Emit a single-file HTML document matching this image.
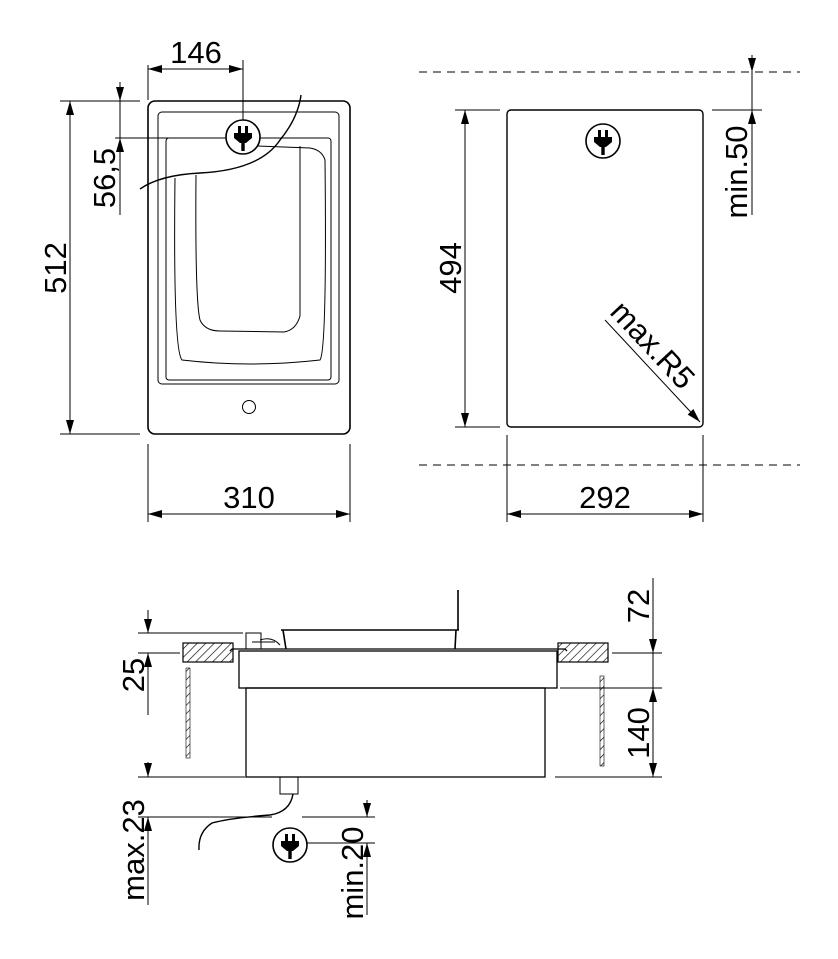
<!DOCTYPE html>
<html><head><style>body{margin:0;background:#fff}svg{display:block}text{font-family:"Liberation Sans",sans-serif;fill:#000}</style></head><body>
<svg width="838" height="959" viewBox="0 0 838 959" xmlns="http://www.w3.org/2000/svg">
<defs>
<marker id="a" viewBox="0 0 14 10" refX="14" refY="5" markerWidth="14" markerHeight="10" markerUnits="userSpaceOnUse" orient="auto-start-reverse"><path d="M0,1 L14,5 L0,9Z" fill="#000"/></marker>
<pattern id="h" width="6" height="6" patternUnits="userSpaceOnUse" patternTransform="rotate(45)"><line x1="0" y1="0" x2="0" y2="6" stroke="#000" stroke-width="1.3"/></pattern>
<g id="plug"><circle r="17" fill="#fff" stroke="#000" stroke-width="1.6"/><rect x="-5" y="-11" width="3" height="7" fill="#000"/><rect x="2" y="-11" width="3" height="7" fill="#000"/><path d="M-9,-4 H9 V1 L3,6 H-3 L-9,1Z" fill="#000"/><rect x="-1.7" y="5" width="3.4" height="9" fill="#000"/></g>
</defs>
<g fill="none" stroke="#000" stroke-width="1">
<rect x="148" y="101" width="202" height="333" rx="7" stroke-width="1.6"/>
<rect x="158" y="112" width="181" height="272" rx="4"/>
<rect x="166" y="138" width="165" height="242" rx="3"/>
<path d="M175,178 Q173,350 182,360 Q250,368 320,360 Q327,350 325,160 Q322,150 310,148 L230,145"/>
<path d="M196,175 Q195,300 200,320 Q205,331 220,331 L284,332 Q296,330 300,316 L300,146"/>
<circle cx="249" cy="407" r="6.5"/>
<path d="M140,189 Q160,175 200,173 Q260,170 280,140 Q298,118 301,95" stroke-width="1.4"/>
<line x1="148" y1="100" x2="148" y2="65"/><line x1="243" y1="60" x2="243" y2="128"/>
<line x1="148" y1="69" x2="243" y2="69" marker-start="url(#a)" marker-end="url(#a)"/>
<line x1="60" y1="101" x2="140" y2="101"/><line x1="60" y1="434" x2="140" y2="434"/>
<line x1="70" y1="101" x2="70" y2="434" marker-start="url(#a)" marker-end="url(#a)"/>
<line x1="115" y1="138" x2="225" y2="138"/>
<line x1="120" y1="82" x2="120" y2="101" marker-end="url(#a)"/>
<line x1="120" y1="215" x2="120" y2="138" marker-end="url(#a)"/>
<line x1="120" y1="101" x2="120" y2="138"/>
<line x1="148" y1="444" x2="148" y2="522"/><line x1="350" y1="444" x2="350" y2="522"/>
<line x1="148" y1="514" x2="350" y2="514" marker-start="url(#a)" marker-end="url(#a)"/>
<rect x="507" y="110" width="196" height="317" rx="4" stroke-width="1.4"/>
<line x1="413" y1="72" x2="800" y2="72" stroke-dasharray="8 6" stroke-dashoffset="-20"/>
<line x1="413" y1="465" x2="800" y2="465" stroke-dasharray="8 6" stroke-dashoffset="-20"/>
<line x1="455" y1="110" x2="500" y2="110"/><line x1="455" y1="427" x2="500" y2="427"/>
<line x1="465" y1="110" x2="465" y2="427" marker-start="url(#a)" marker-end="url(#a)"/>
<line x1="712" y1="110" x2="762" y2="110"/>
<line x1="752" y1="55" x2="752" y2="72" marker-end="url(#a)"/>
<line x1="752" y1="215" x2="752" y2="110" marker-end="url(#a)"/>
<line x1="752" y1="72" x2="752" y2="110"/>
<line x1="605" y1="320" x2="700" y2="422" marker-end="url(#a)"/>
<line x1="507" y1="435" x2="507" y2="522"/><line x1="703" y1="435" x2="703" y2="522"/>
<line x1="507" y1="514" x2="703" y2="514" marker-start="url(#a)" marker-end="url(#a)"/>
<rect x="183" y="643" width="50" height="19" fill="url(#h)" stroke-width="1.2"/>
<rect x="558" y="643" width="50" height="19" fill="url(#h)" stroke-width="1.2"/>
<rect x="186" y="668" width="4" height="90" fill="url(#h)" stroke-width="0.6"/>
<rect x="600" y="676" width="4" height="90" fill="url(#h)" stroke-width="0.6"/>
<path d="M230,651 L232,649 H565 L567,651" stroke-width="1.3"/>
<rect x="239" y="651" width="318" height="37" stroke-width="1.3"/>
<rect x="246" y="688" width="299" height="89" stroke-width="1.3"/>
<path d="M281,630 H459 M283,630 L286,649 M456,630 L455,649 M458,630 L458,590" stroke-width="1.6"/>
<rect x="246" y="633" width="15" height="16"/>
<path d="M252,642 H275 M260,640 Q272,636 280,645"/>
<rect x="280" y="777" width="18" height="17"/>
<path d="M293,794 Q290,812 270,815 Q230,818 212,823 Q198,832 199,850" stroke-width="1.4"/>
<line x1="138" y1="633" x2="243" y2="633"/><line x1="138" y1="653" x2="180" y2="653"/>
<line x1="148" y1="610" x2="148" y2="633" marker-end="url(#a)"/>
<line x1="148" y1="715" x2="148" y2="653" marker-end="url(#a)"/>
<line x1="138" y1="777" x2="245" y2="777"/><line x1="138" y1="817" x2="272" y2="817"/>
<line x1="148" y1="762" x2="148" y2="777" marker-end="url(#a)"/>
<line x1="148" y1="905" x2="148" y2="817" marker-end="url(#a)"/>
<line x1="302" y1="817" x2="375" y2="817"/><line x1="290" y1="843" x2="375" y2="843"/>
<line x1="367" y1="800" x2="367" y2="817" marker-end="url(#a)"/>
<line x1="367" y1="915" x2="367" y2="843" marker-end="url(#a)"/>
<line x1="612" y1="653" x2="662" y2="653"/><line x1="560" y1="688" x2="662" y2="688"/><line x1="555" y1="777" x2="662" y2="777"/>
<line x1="653" y1="578" x2="653" y2="653" marker-end="url(#a)"/>
<line x1="653" y1="653" x2="653" y2="688"/>
<line x1="653" y1="688" x2="653" y2="777" marker-start="url(#a)" marker-end="url(#a)"/>
</g>
<use href="#plug" x="243" y="137"/>
<use href="#plug" x="603" y="141"/>
<use href="#plug" x="290" y="845"/>
<g font-size="31">
<text x="196" y="63" text-anchor="middle">146</text>
<text x="249" y="508" text-anchor="middle">310</text>
<text x="605" y="508" text-anchor="middle">292</text>
<text transform="translate(66,268) rotate(-90)" text-anchor="middle">512</text>
<text transform="translate(115,178) rotate(-90)" text-anchor="middle">56,5</text>
<text transform="translate(461,268) rotate(-90)" text-anchor="middle">494</text>
<text transform="translate(747,172) rotate(-90)" text-anchor="middle">min.50</text>
<text transform="translate(645,352) rotate(47)" text-anchor="middle">max.R5</text>
<text transform="translate(144,675) rotate(-90)" text-anchor="middle">25</text>
<text transform="translate(144,850) rotate(-90)" text-anchor="middle">max.23</text>
<text transform="translate(363,873) rotate(-90)" text-anchor="middle">min.20</text>
<text transform="translate(649,606) rotate(-90)" text-anchor="middle">72</text>
<text transform="translate(649,733) rotate(-90)" text-anchor="middle">140</text>
</g>
</svg>
</body></html>
